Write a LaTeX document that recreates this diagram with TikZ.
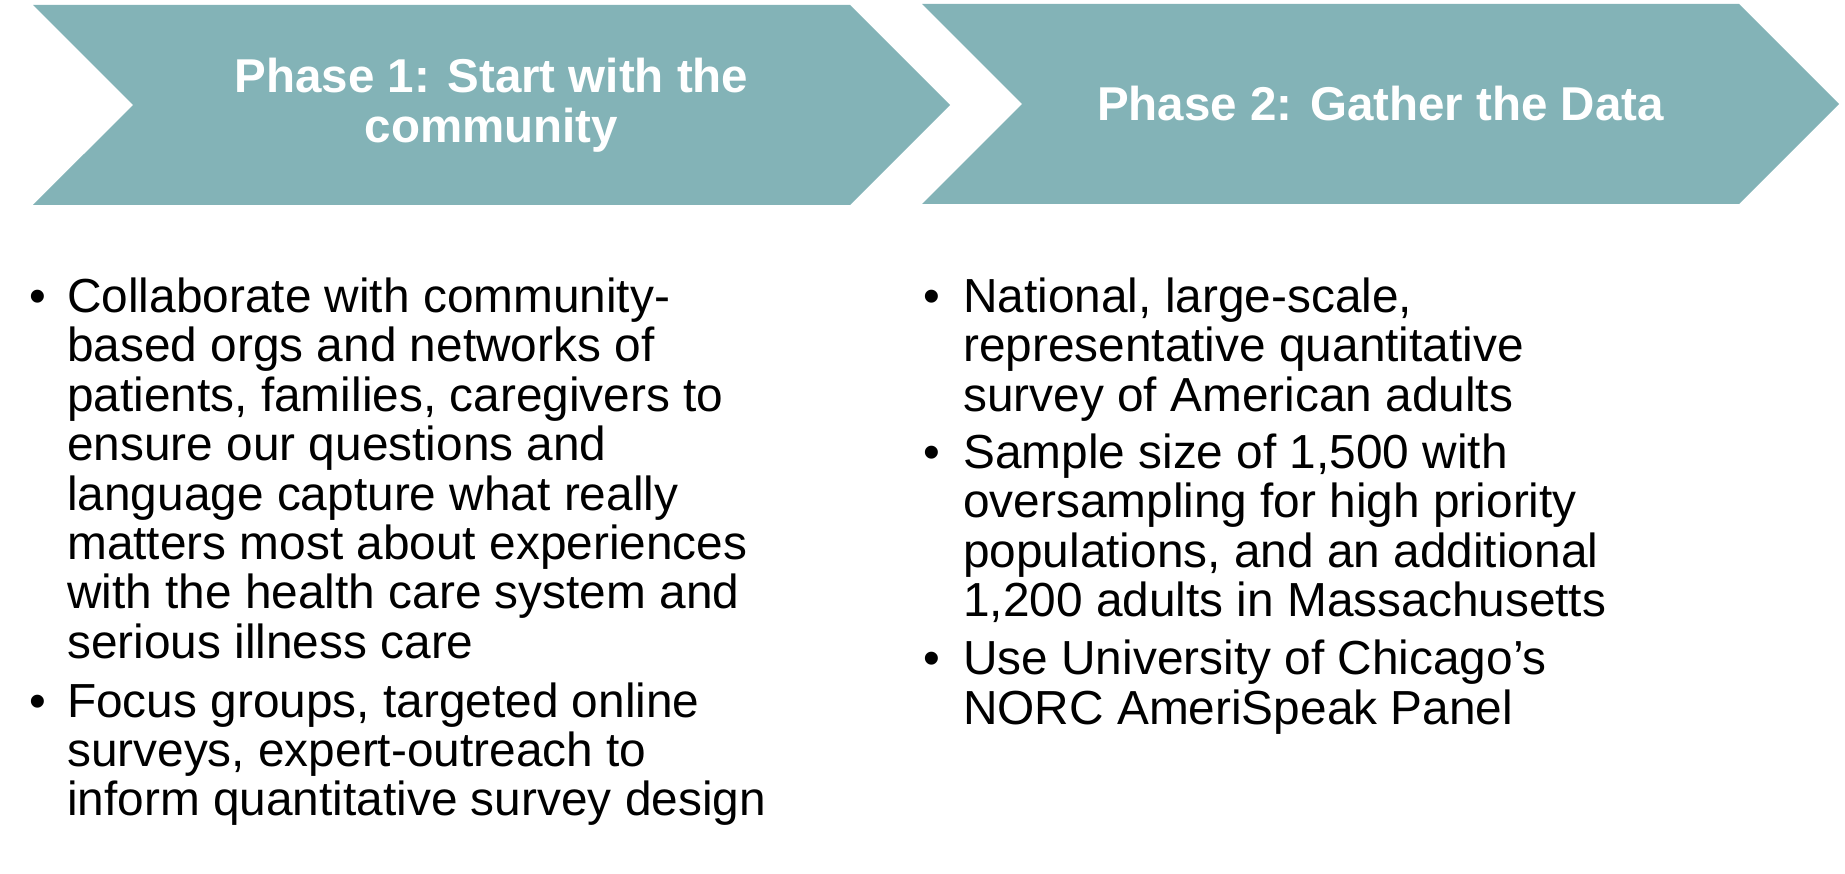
\documentclass[tikz,border=0pt]{standalone}
\usepackage{fontspec}
\setmainfont{Liberation Sans}
\usetikzlibrary{positioning, shapes.symbols}
\definecolor{phasefill}{RGB}{131, 179, 183}
\definecolor{bodytext}{RGB}{0, 0, 0}
\tikzset{
  phase/.style={
    shape=signal, signal from=west, signal to=east, signal pointer angle=90,
    fill=phasefill, draw=none, inner sep=0pt, outer sep=0pt,
    minimum width=917pt, minimum height=200pt,
    text=white, align=center,
    font=\fontsize{47.5}{49.6}\selectfont\bfseries
  },
  itemtext/.style={
    anchor=base west, inner sep=0pt, align=left, text=bodytext,
    font=\fontsize{47.8}{49.4}\selectfont
  },
  bulletmark/.style={
    anchor=base, inner sep=0pt, text=bodytext,
    font=\fontsize{47.8}{49.4}\selectfont
  },
}
\begin{document}
\begin{tikzpicture}[x=1pt, y=-1pt]

  \useasboundingbox (0,0) rectangle (1845,874);

  % ============ PHASE CHEVRONS ============
  \node[phase] (phase1) at ( 491.5, 105) {Phase 1: Start with the\\community};
  \node[phase] (phase2) at (1380.5, 104) {Phase 2: Gather the Data};

  % ============ PHASE 1 ITEMS ============
  % (items are placed by the baseline of their last line)
  \node[itemtext] (p1a) at (67, 658.3) {Collaborate with community-\\
    based orgs and networks of\\
    patients, families, caregivers to\\
    ensure our questions and\\
    language capture what really\\
    matters most about experiences\\
    with the health care system and\\
    serious illness care};
  \node[itemtext] (p1b) at (67, 815.9) {Focus groups, targeted online\\
    surveys, expert-outreach to\\
    inform quantitative survey design};

  % ============ PHASE 2 ITEMS ============
  \node[itemtext] (p2a) at (963, 411.3) {National, large-scale,\\
    representative quantitative\\
    survey of American adults};
  \node[itemtext] (p2b) at (963, 616.5) {Sample size of 1,500 with\\
    oversampling for high priority\\
    populations, and an additional\\
    1,200 adults in Massachusetts};
  \node[itemtext] (p2c) at (963, 724.2) {Use University of Chicago’s\\
    NORC AmeriSpeak Panel};

  % Bullets on the first line of each item
  \foreach \n/\xx/\yy in {p1a/38/312.5, p1b/38/717.1,
                          p2a/932/312.5, p2b/932/468.3, p2c/932/674.8} {
    \node[bulletmark] (bul-\n) at (\xx, \yy) {•};
  }

\end{tikzpicture}
\end{document}
